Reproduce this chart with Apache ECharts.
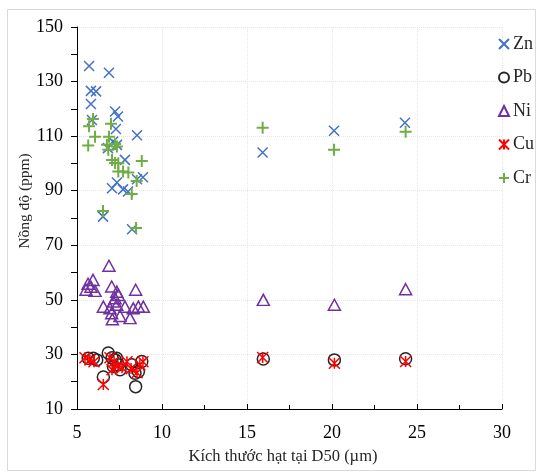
<!DOCTYPE html>
<html>
<head>
<meta charset="utf-8">
<script src="https://cdn.jsdelivr.net/npm/echarts@6/dist/echarts.min.js"></script>
<style>
  html, body { margin: 0; padding: 0; background: #fff; }
  #chart { width: 543px; height: 475px; }
</style>
</head>
<body>
<div id="chart"></div>
<script>
// Particle size at D50 (µm) vs. metal concentration (ppm)
const xTicks = [5, 10, 15, 20, 25, 30];
const yTicks = [10, 30, 50, 70, 90, 110, 130, 150];

const znX = [5.71, 6.88, 5.82, 6.12, 5.82, 7.24, 7.41, 5.88, 7.29, 8.53, 7.12, 7.35, 6.82, 7.82, 8.88, 8.53, 7.35, 7.06, 7.71, 8.0, 6.53, 8.24, 15.92, 20.12, 24.29];
const znY = [135.7, 133.2, 126.6, 126.4, 121.8, 119.0, 117.2, 115.9, 112.6, 110.3, 108.0, 106.8, 105.6, 101.3, 94.9, 94.2, 93.0, 90.9, 90.5, 89.7, 80.5, 75.9, 104.0, 112.0, 114.9];

const pbX = [5.66, 5.96, 6.16, 6.84, 6.55, 7.06, 7.24, 7.43, 7.14, 7.53, 7.33, 8.22, 8.61, 8.41, 8.81, 8.45, 15.96, 20.14, 24.33];
const pbY = [28.6, 28.6, 28.0, 30.5, 21.7, 28.8, 28.0, 26.2, 25.6, 24.4, 28.6, 26.2, 23.7, 23.1, 27.4, 18.2, 28.3, 28.0, 28.4];

const niX = [6.88, 5.65, 5.94, 5.82, 5.53, 6.06, 7.04, 7.34, 7.43, 7.24, 7.14, 8.45, 6.55, 6.94, 7.34, 7.82, 8.31, 8.61, 8.9, 7.04, 7.53, 8.12, 7.08, 15.96, 20.14, 24.33];
const niY = [62.5, 55.9, 57.3, 54.8, 53.7, 53.3, 54.9, 53.0, 51.8, 50.6, 49.4, 53.7, 47.5, 46.9, 48.2, 47.5, 46.9, 47.5, 47.5, 45.1, 44.1, 43.3, 42.9, 50.0, 48.2, 53.9];

const cuX = [5.47, 5.76, 6.0, 6.55, 6.94, 7.18, 7.41, 7.65, 7.06, 7.94, 8.18, 8.53, 8.88, 8.7, 15.92, 20.14, 24.33];
const cuY = [28.8, 28.0, 27.3, 19.0, 28.8, 27.3, 25.8, 25.1, 24.4, 27.3, 24.8, 23.3, 27.3, 26.2, 28.9, 26.8, 27.4];

const crX = [5.94, 5.71, 7.0, 6.06, 5.66, 6.88, 6.76, 7.24, 7.35, 6.84, 7.06, 7.24, 7.43, 8.81, 7.43, 7.71, 8.02, 8.51, 8.22, 6.53, 8.47, 15.92, 20.12, 24.33];
const crY = [116.3, 113.6, 114.5, 109.8, 106.6, 109.8, 106.8, 107.1, 106.2, 105.0, 101.3, 100.2, 100.1, 100.9, 97.0, 97.0, 96.7, 93.6, 88.8, 82.6, 76.3, 113.1, 105.0, 111.6];

const FONT = "'Liberation Serif', 'Times New Roman', serif";

function pairs(xs, ys) { return xs.map((x, i) => [x, ys[i]]); }

// Stroke-only marker shapes (Excel-style x, +, star)
const SYM_X = 'path://M0,0L10,10M10,0L0,10';
const SYM_PLUS = 'path://M5,0L5,10M0,5L10,5';
const SYM_STAR = 'path://M0,0L10,10M10,0L0,10M5,0L5,10';

function strokeSeries(name, data, symbol, size, color, width) {
  return {
    name, type: 'scatter', data, symbol, symbolSize: size,
    itemStyle: { color: 'rgba(0,0,0,0)', borderColor: color, borderWidth: width, opacity: 1 },
    emphasis: { disabled: true }
  };
}

const chart = echarts.init(document.getElementById('chart'));
chart.setOption({
  animation: false,
  grid: { left: 77, right: 41, top: 27, bottom: 66 },
  xAxis: {
    type: 'value', min: xTicks[0], max: xTicks[xTicks.length - 1], interval: 5,
    axisLine: { lineStyle: { color: '#000', width: 1 } },
    axisTick: { show: true, inside: true, length: 5, lineStyle: { color: '#000' } },
    minorTick: { show: true, splitNumber: 2, length: 4, lineStyle: { color: '#000' } },
    axisLabel: { color: '#000', fontFamily: FONT, fontSize: 18, margin: 15 },
    splitLine: { show: true, lineStyle: { color: '#e6e6e6', type: 'dotted', width: 1 } }
  },
  yAxis: {
    type: 'value', min: yTicks[0], max: yTicks[yTicks.length - 1], interval: 20,
    axisLine: { show: true, lineStyle: { color: '#000', width: 1 } },
    axisTick: { show: true, inside: false, length: 6, lineStyle: { color: '#000' } },
    minorTick: { show: true, splitNumber: 2, length: 6, lineStyle: { color: '#000' } },
    axisLabel: { color: '#000', fontFamily: FONT, fontSize: 18, margin: 14 },
    splitLine: { show: true, lineStyle: { color: '#e6e6e6', type: 'dotted', width: 1 } }
  },
  legend: {
    orient: 'vertical', left: 498, top: 35, padding: 0,
    itemWidth: 10, itemHeight: 10, itemGap: 15.5,
    textStyle: { fontFamily: FONT, fontSize: 18, color: '#262626', padding: [0, 0, 0, -1] },
    data: ['Zn', 'Pb', 'Ni', 'Cu', 'Cr']
  },
  graphic: [
    { type: 'rect', shape: { x: 7.5, y: 9.5, width: 528, height: 461 },
      style: { fill: 'none', stroke: '#d9d9d9', lineWidth: 1 }, silent: true, z: -1 },
    { type: 'text', x: 25, y: 201, rotation: Math.PI / 2,
      style: { text: 'Nồng độ (ppm)', font: '15.5px ' + FONT, fill: '#262626', align: 'center', verticalAlign: 'middle' } },
    { type: 'text', x: 283, y: 457,
      style: { text: 'Kích thước hạt tại D50 (µm)', font: '16.5px ' + FONT, fill: '#262626', align: 'center', verticalAlign: 'middle' } }
  ],
  series: [
    strokeSeries('Zn', pairs(znX, znY), SYM_X, 10, '#4472C4', 1.5),
    {
      name: 'Pb', type: 'scatter', data: pairs(pbX, pbY), symbol: 'circle', symbolSize: 12,
      itemStyle: { color: 'rgba(0,0,0,0)', borderColor: '#262626', borderWidth: 1.5, opacity: 1 },
      emphasis: { disabled: true }
    },
    {
      name: 'Ni', type: 'scatter', data: pairs(niX, niY), symbol: 'triangle', symbolSize: [12, 11],
      itemStyle: { color: 'rgba(0,0,0,0)', borderColor: '#7030A0', borderWidth: 1.5, opacity: 1 },
      emphasis: { disabled: true }
    },
    strokeSeries('Cu', pairs(cuX, cuY), SYM_STAR, 11, '#FF0000', 1.5),
    strokeSeries('Cr', pairs(crX, crY), SYM_PLUS, 12, '#70AD47', 2)
  ]
});
</script>
</body>
</html>
